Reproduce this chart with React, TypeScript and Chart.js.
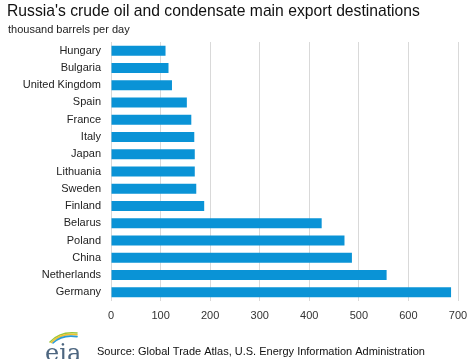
import React, { useEffect, useRef } from "react";
import { Chart, registerables } from "chart.js";

Chart.register(...registerables);

const countries = [
  "Hungary", "Bulgaria", "United Kingdom", "Spain", "France", "Italy", "Japan",
  "Lithuania", "Sweden", "Finland", "Belarus", "Poland", "China", "Netherlands", "Germany",
];
const exportsKbd = [110, 116, 123, 153, 162, 168, 169, 169, 172, 188, 425, 471, 486, 556, 686];
const xTicks = [0, 100, 200, 300, 400, 500, 600, 700];

const titleText = "Russia's crude oil and condensate main export destinations";
const unitText = "thousand barrels per day";
const sourceText = "Source: Global Trade Atlas, U.S. Energy Information Administration";

const FONT = "'Liberation Sans', Arial, sans-serif";

const textPlugin = {
  id: "textPlugin",
  afterDraw(chart: any) {
    const ctx = chart.ctx as CanvasRenderingContext2D;
    ctx.save();
    ctx.textAlign = "left";
    ctx.textBaseline = "alphabetic";
    ctx.fillStyle = "#111";
    ctx.font = `15.7px ${FONT}`;
    ctx.fillText(titleText, 7, 16);
    ctx.fillStyle = "#222";
    ctx.font = `11px ${FONT}`;
    ctx.fillText(unitText, 8, 33);
    ctx.font = `11px ${FONT}`;
    ctx.fillStyle = "#111";
    ctx.fillText(sourceText, 97, 355);
    // eia logo swoosh
    ctx.lineWidth = 1.6;
    ctx.lineCap = "round";
    const arcs = ["#9cc63b", "#f2c230", "#2a9ad6"];
    arcs.forEach((c, i) => {
      ctx.strokeStyle = c;
      ctx.beginPath();
      ctx.moveTo(50 + i * 1.5, 342 + i * 0.5);
      ctx.quadraticCurveTo(60 + i, 331 + i * 1.6, 77, 333 + i * 1.8);
      ctx.stroke();
    });
    ctx.fillStyle = "#4d6680";
    ctx.font = `24px 'DejaVu Serif', serif`;
    ctx.fillText("eia", 45, 361);
    ctx.restore();
  },
};

export default function App() {
  const ref = useRef<HTMLCanvasElement | null>(null);
  useEffect(() => {
    document.body.style.margin = "0";
    const chart = new Chart(ref.current!, {
      type: "bar",
      data: {
        labels: countries,
        datasets: [
          {
            data: exportsKbd,
            backgroundColor: "#0a93d6",
            barPercentage: 0.58,
            categoryPercentage: 1,
          },
        ],
      },
      options: {
        indexAxis: "y",
        responsive: false,
        animation: false,
        layout: { padding: { top: 42, bottom: 34, left: 0, right: 12 } },
        plugins: { legend: { display: false }, tooltip: { enabled: false }, title: { display: false } },
        scales: {
          x: {
            min: 0,
            max: 700,
            afterBuildTicks(scale: any) {
              scale.ticks = xTicks.map((v) => ({ value: v }));
            },
            afterFit(scale: any) {
              scale.height = 24;
              scale.paddingLeft = 0;
              scale.paddingRight = 0;
            },
            grid: { color: "#d9d9d9", drawTicks: false, lineWidth: 1 },
            border: { display: false },
            ticks: { color: "#333", font: { family: FONT, size: 11 }, padding: 8, maxRotation: 0 },
          },
          y: {
            afterFit(scale: any) {
              scale.width = 111;
            },
            grid: { display: false, drawTicks: false },
            border: { display: false },
            ticks: { color: "#222", font: { family: FONT, size: 11 }, padding: 10 },
          },
        },
      },
      plugins: [textPlugin],
    });
    return () => chart.destroy();
  }, []);
  return (
    <div style={{ position: "absolute", left: 0, top: 0, width: 470, height: 359, background: "#fff" }}>
      <canvas ref={ref} width={470} height={359} />
    </div>
  );
}
